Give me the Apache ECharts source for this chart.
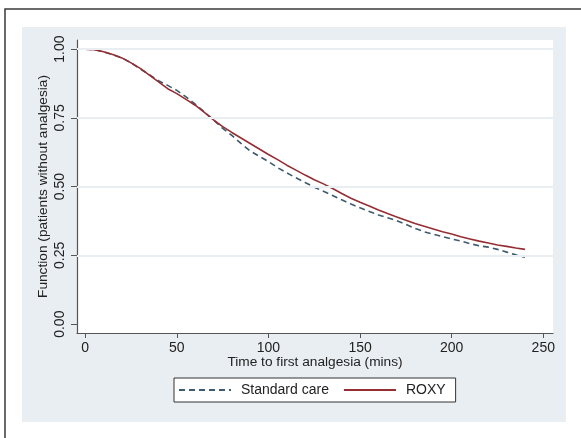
<!DOCTYPE html>
<html>
<head>
<meta charset="utf-8">
<script src="https://cdn.jsdelivr.net/npm/echarts@6/dist/echarts.min.js"></script>
<style>html,body{margin:0;padding:0;background:#fff;}#c{width:581px;height:438px;}</style>
</head>
<body>
<div id="c"></div>
<script>
const times = [0,5,10,15,20,25,30,35,40,45,50,55,60,65,70,75,80,85,90,95,100,105,110,115,120,125,130,135,140,145,150,155,160,165,170,175,180,185,190,195,200,205,210,215,220,225,230,235,240];
const standardCare = [1.000,0.998,0.990,0.980,0.968,0.950,0.928,0.907,0.885,0.868,0.850,0.826,0.800,0.772,0.742,0.712,0.686,0.657,0.630,0.610,0.591,0.569,0.550,0.532,0.515,0.498,0.483,0.468,0.452,0.437,0.423,0.410,0.397,0.387,0.376,0.363,0.348,0.336,0.327,0.318,0.310,0.302,0.293,0.285,0.280,0.272,0.262,0.252,0.243];
const roxy = [1.000,0.998,0.990,0.980,0.968,0.950,0.930,0.905,0.881,0.856,0.838,0.817,0.796,0.770,0.743,0.718,0.697,0.677,0.657,0.637,0.617,0.598,0.578,0.560,0.542,0.525,0.510,0.493,0.475,0.458,0.443,0.430,0.415,0.402,0.390,0.378,0.366,0.356,0.346,0.336,0.328,0.318,0.310,0.302,0.295,0.288,0.283,0.277,0.272];
const xTicks = [0,50,100,150,200,250];
const yTicks = [0,0.25,0.5,0.75,1];
const yGridLines = [0.25,0.5,0.75,1];
const seriesNames = ['Standard care','ROXY'];
const xTitle = 'Time to first analgesia (mins)';
const yTitle = 'Function (patients without analgesia)';

const chart = echarts.init(document.getElementById('c'), null, {renderer:'canvas'});
const font = 'Liberation Sans, Arial, Helvetica, sans-serif';
const pair = (vals) => times.map((t,i)=>[t, vals[i]]);
chart.setOption({
  animation:false,
  backgroundColor:'#ffffff',
  graphic:[
    {type:'rect', shape:{x:22,y:27,width:544,height:395}, style:{fill:'#e8eef2'}, z:-10, silent:true},
    {type:'polyline', shape:{points:[[5,438],[5,9],[581,9]]}, style:{stroke:'#3a3a3a', lineWidth:1.5, fill:null}, z:-5, silent:true}
  ],
  grid:{left:77, right:28, top:40, bottom:105, show:true, backgroundColor:'#ffffff', borderWidth:0},
  legend:{
    show:true,
    left:174, top:378,
    padding:[5,10,5,4],
    itemWidth:52, itemHeight:12, itemGap:14,
    backgroundColor:'#ffffff', borderColor:'#333333', borderWidth:1, borderRadius:0,
    textStyle:{fontFamily:font, fontSize:14, color:'#222', padding:[0,0,0,5]},
    data:seriesNames.map(n=>({name:n, itemStyle:{opacity:0}}))
  },
  xAxis:{
    type:'value', min:-4.5, max:255.3,
    name:xTitle, nameLocation:'middle', nameGap:22, nameMoveOverlap:false,
    nameTextStyle:{fontFamily:font, fontSize:13.7, color:'#222'},
    axisLine:{show:true, onZero:false, lineStyle:{color:'#555', width:1.2}},
    axisTick:{show:true, customValues:xTicks, length:5, lineStyle:{color:'#555'}},
    axisLabel:{customValues:xTicks, fontFamily:font, fontSize:14, color:'#222', margin:8},
    splitLine:{show:false}
  },
  yAxis:{
    type:'value', min:-0.032, max:1.033,
    name:yTitle, nameLocation:'middle', nameGap:27, nameRotate:90, nameMoveOverlap:false,
    nameTextStyle:{fontFamily:font, fontSize:13.7, color:'#222'},
    axisLine:{show:true, onZero:false, lineStyle:{color:'#555', width:1.2}},
    axisTick:{show:true, customValues:yTicks, length:6, lineStyle:{color:'#555'}},
    axisLabel:{customValues:yTicks, rotate:90, fontFamily:font, fontSize:14, color:'#222', margin:10,
      formatter:(v)=>v.toFixed(2)},
    splitLine:{show:false}
  },
  series:[
    {name:seriesNames[0], type:'line', data:pair(standardCare), symbol:'none', smooth:false,
      lineStyle:{color:'#3e5b6e', width:1.6, type:[6,4]}, itemStyle:{color:'#3e5b6e'},
      markLine:{silent:true, symbol:'none', label:{show:false}, animation:false,
        lineStyle:{color:'#e8eef2', width:2, type:'solid'},
        data:yGridLines.map(v=>({yAxis:v}))}, z:3},
    {name:seriesNames[1], type:'line', data:pair(roxy), symbol:'none', smooth:false,
      lineStyle:{color:'#952e33', width:1.6}, itemStyle:{color:'#952e33'}, z:4}
  ]
});
</script>
</body>
</html>
